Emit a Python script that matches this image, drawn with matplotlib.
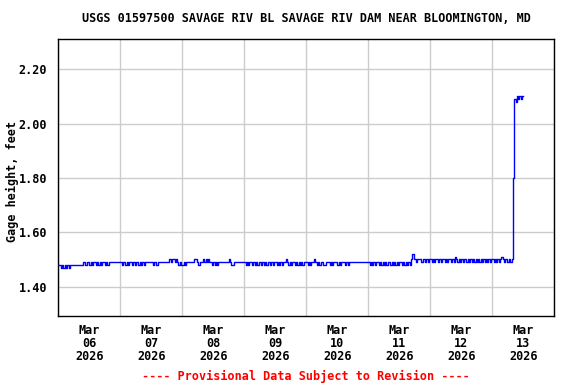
import numpy as np
import matplotlib
matplotlib.use("Agg")
import matplotlib.pyplot as plt
import matplotlib.dates as mdates
import matplotlib.ticker as mticker

title = "USGS 01597500 SAVAGE RIV BL SAVAGE RIV DAM NEAR BLOOMINGTON, MD"
ylabel = "Gage height, feet"
footer = "---- Provisional Data Subject to Revision ----"

day_starts = ["2026-03-06", "2026-03-07", "2026-03-08", "2026-03-09",
              "2026-03-10", "2026-03-11", "2026-03-12", "2026-03-13"]

# gage height readings, every 30 minutes from midnight of each day
mar06 = [1.48, 1.48, 1.47, 1.48, 1.47, 1.48, 1.47, 1.48, 1.47, 1.48,
         1.48, 1.48, 1.48, 1.48, 1.48, 1.48, 1.48, 1.48, 1.48, 1.49,
         1.49, 1.48, 1.49, 1.49, 1.48, 1.49, 1.48, 1.49, 1.49, 1.48,
         1.49, 1.48, 1.49, 1.48, 1.49, 1.49, 1.48, 1.49, 1.48, 1.49,
         1.49, 1.49, 1.49, 1.49, 1.49, 1.49, 1.49, 1.49]
mar07 = [1.49, 1.48, 1.49, 1.49, 1.48, 1.49, 1.48, 1.49, 1.49, 1.48,
         1.49, 1.48, 1.49, 1.49, 1.48, 1.49, 1.48, 1.49, 1.48, 1.49,
         1.49, 1.49, 1.49, 1.49, 1.49, 1.48, 1.49, 1.49, 1.48, 1.49,
         1.49, 1.49, 1.49, 1.49, 1.49, 1.49, 1.49, 1.49, 1.50, 1.49,
         1.50, 1.50, 1.49, 1.50, 1.49, 1.48, 1.49, 1.48]
mar08 = [1.48, 1.49, 1.48, 1.49, 1.49, 1.49, 1.49, 1.49, 1.49, 1.50,
         1.50, 1.49, 1.48, 1.48, 1.49, 1.49, 1.50, 1.49, 1.50, 1.49,
         1.50, 1.49, 1.49, 1.48, 1.49, 1.48, 1.49, 1.48, 1.49, 1.49,
         1.49, 1.49, 1.49, 1.49, 1.49, 1.49, 1.50, 1.49, 1.48, 1.48,
         1.49, 1.49, 1.49, 1.49, 1.49, 1.49, 1.49, 1.49]
mar09 = [1.49, 1.48, 1.49, 1.48, 1.49, 1.49, 1.48, 1.49, 1.48, 1.49,
         1.48, 1.49, 1.49, 1.48, 1.49, 1.48, 1.49, 1.48, 1.49, 1.49,
         1.48, 1.49, 1.48, 1.49, 1.49, 1.48, 1.49, 1.48, 1.49, 1.48,
         1.49, 1.49, 1.50, 1.49, 1.48, 1.49, 1.48, 1.49, 1.49, 1.48,
         1.49, 1.48, 1.49, 1.48, 1.49, 1.48, 1.49, 1.49]
mar10 = [1.49, 1.48, 1.49, 1.48, 1.49, 1.49, 1.50, 1.49, 1.48, 1.49,
         1.48, 1.49, 1.49, 1.48, 1.48, 1.49, 1.49, 1.49, 1.48, 1.49,
         1.48, 1.49, 1.49, 1.49, 1.48, 1.49, 1.48, 1.49, 1.49, 1.49,
         1.48, 1.49, 1.48, 1.49, 1.49, 1.49, 1.49, 1.49, 1.49, 1.49,
         1.49, 1.49, 1.49, 1.49, 1.49, 1.49, 1.49, 1.49]
mar11 = [1.49, 1.48, 1.49, 1.48, 1.49, 1.48, 1.49, 1.49, 1.48, 1.49,
         1.48, 1.49, 1.48, 1.49, 1.48, 1.49, 1.49, 1.48, 1.49, 1.48,
         1.49, 1.48, 1.49, 1.48, 1.49, 1.49, 1.48, 1.49, 1.48, 1.49,
         1.48, 1.49, 1.48, 1.50, 1.52, 1.50, 1.50, 1.49, 1.50, 1.50,
         1.50, 1.49, 1.50, 1.50, 1.49, 1.50, 1.49, 1.50]
mar12 = [1.50, 1.49, 1.50, 1.49, 1.50, 1.50, 1.49, 1.50, 1.49, 1.50,
         1.50, 1.49, 1.50, 1.49, 1.50, 1.50, 1.49, 1.50, 1.49, 1.51,
         1.50, 1.49, 1.50, 1.49, 1.50, 1.49, 1.50, 1.50, 1.49, 1.50,
         1.49, 1.50, 1.49, 1.50, 1.49, 1.50, 1.49, 1.50, 1.49, 1.50,
         1.49, 1.50, 1.49, 1.50, 1.49, 1.50, 1.49, 1.50]
mar13 = [1.50, 1.49, 1.50, 1.49, 1.50, 1.49, 1.50, 1.51, 1.50, 1.49,
         1.50, 1.49, 1.49, 1.50, 1.49, 1.50, 1.80, 2.09, 2.08, 2.10,
         2.09, 2.10, 2.09, 2.10, 2.10]

days = [mar06, mar07, mar08, mar09, mar10, mar11, mar12, mar13]

times = []
values = []
for start, vals in zip(day_starts, days):
    t0 = np.datetime64(start + "T00:00")
    times.extend(t0 + np.arange(len(vals)) * np.timedelta64(30, "m"))
    values.extend(vals)
times = np.array(times, dtype="datetime64[m]")
values = np.array(values)

y_ticks = [1.40, 1.60, 1.80, 2.00, 2.20]

W, H = 576, 384
fig = plt.figure(figsize=(W / 100, H / 100), dpi=100)
fig.patch.set_facecolor("white")
ax = fig.add_axes([58.3 / W, 1 - 316 / H, (554.3 - 58.3) / W, (316 - 39) / H])

ax.plot(times, values, color="#0000ff", lw=1.0, drawstyle="steps-post",
        zorder=3)

ax.set_xlim(np.datetime64("2026-03-06T00:00"), np.datetime64("2026-03-14T00:00"))
ax.set_ylim(1.292, 2.311)

font = dict(family="DejaVu Sans Mono", weight="bold", size=8.5)

ax.set_yticks(y_ticks)
ax.yaxis.set_major_formatter(mticker.FormatStrFormatter("%.2f"))
ax.xaxis.set_major_locator(mdates.HourLocator(byhour=[12]))
ax.xaxis.set_major_formatter(mdates.DateFormatter("%b\n%d\n%Y"))
ax.xaxis.set_minor_locator(mdates.DayLocator())

ax.grid(False)
ax.yaxis.grid(True, which="major", color="#cccccc", lw=1.0)
ax.xaxis.grid(True, which="minor", color="#cccccc", lw=1.0)
ax.set_axisbelow(True)

ax.tick_params(axis="both", which="both", length=0)
ax.tick_params(axis="y", pad=8)
ax.tick_params(axis="x", pad=6)
for lab in ax.get_xticklabels() + ax.get_yticklabels():
    lab.set_fontfamily(font["family"])
    lab.set_fontweight("bold")
    lab.set_fontsize(font["size"])
for lab in ax.get_xticklabels():
    lab.set_linespacing(1.0)

for s in ax.spines.values():
    s.set_color("black")
    s.set_linewidth(1.0)

fig.text(306 / W, 1 - 19 / H, title, ha="center", va="center", **font)
fig.text(12 / W, 1 - 181 / H, ylabel, ha="center", va="center",
         rotation=90, **font)
fig.text(306 / W, 1 - 376 / H, footer, ha="center", va="center",
         color="#ff0000", **font)

fig.savefig("out.png", dpi=100, facecolor="white")
